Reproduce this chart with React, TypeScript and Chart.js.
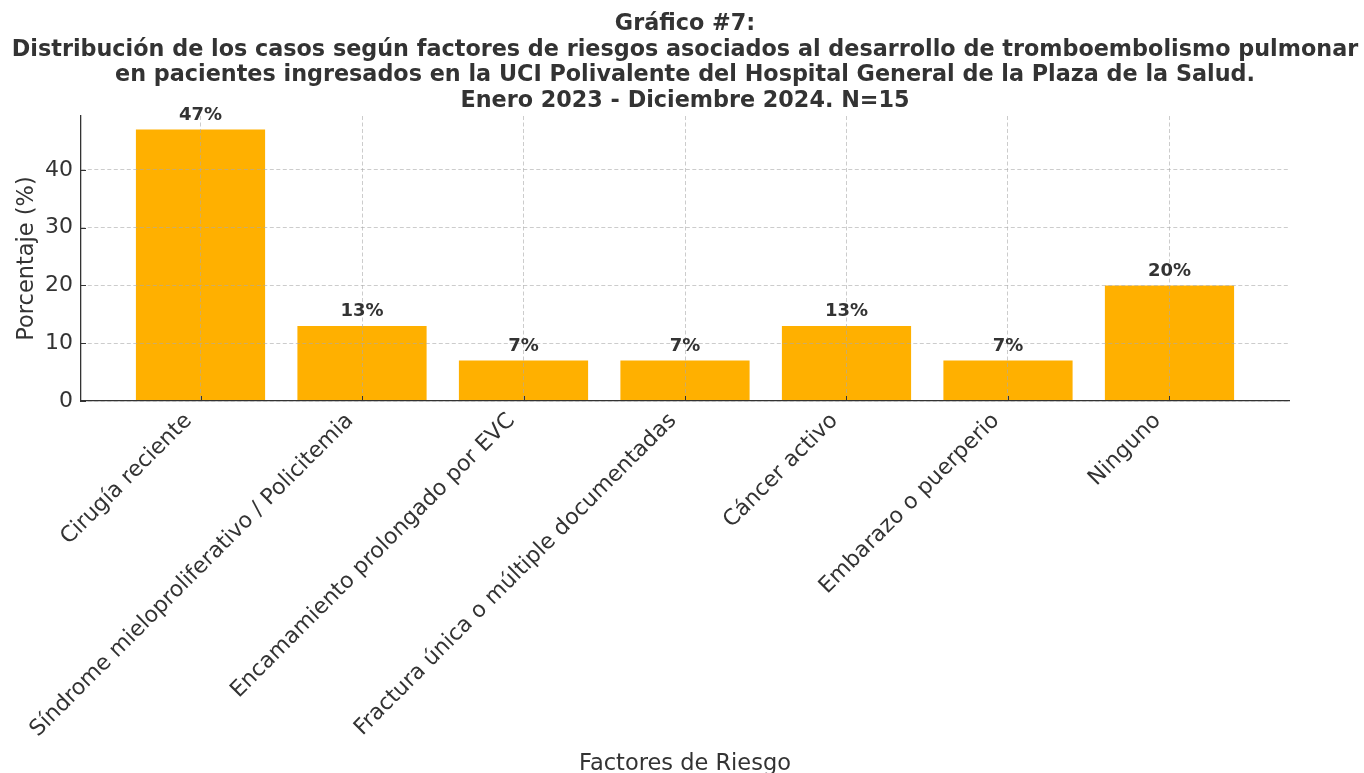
import React, { useEffect, useRef } from 'react';
import { Chart, registerables } from 'chart.js';

Chart.register(...registerables);

const categories: string[] = [
  'Cirugía reciente',
  'Síndrome mieloproliferativo / Policitemia',
  'Encamamiento prolongado por EVC',
  'Fractura única o múltiple documentadas',
  'Cáncer activo',
  'Embarazo o puerperio',
  'Ninguno',
];
const percentages: number[] = [47, 13, 7, 7, 13, 7, 20];
const valueLabels: string[] = ['47%', '13%', '7%', '7%', '13%', '7%', '20%'];
const titleLines: string[] = [
  'Gráfico #7:',
  'Distribución de los casos según factores de riesgos asociados al desarrollo de tromboembolismo pulmonar',
  'en pacientes ingresados en la UCI Polivalente del Hospital General de la Plaza de la Salud.',
  'Enero 2023 - Diciembre 2024. N=15',
];
const yAxisTitle = 'Porcentaje (%)';
const xAxisTitle = 'Factores de Riesgo';

const FONT = "'DejaVu Sans', sans-serif";
const TEXT = '#333333';
const BAR = '#FFB000';
const GRID = 'rgba(170,170,170,0.6)';

export default function App() {
  const ref = useRef<HTMLCanvasElement | null>(null);

  useEffect(() => {
    if (!ref.current) return;
    const n = categories.length;
    const lo = -0.4;
    const hi = n - 1 + 0.4;
    const m = 0.05 * (hi - lo);
    const yMax = Math.max(...percentages) * 1.05;

    const overlay = {
      id: 'overlay',
      afterDraw(chart: any) {
        const ctx = chart.ctx;
        const xs = chart.scales.x;
        const ys = chart.scales.y;
        const area = chart.chartArea;
        ctx.save();
        ctx.strokeStyle = TEXT;
        ctx.lineWidth = 1;
        xs.ticks.forEach((t: any) => {
          const px = Math.round(xs.getPixelForValue(t.value)) + 0.5;
          ctx.beginPath();
          ctx.moveTo(px, area.bottom);
          ctx.lineTo(px, area.bottom - 5);
          ctx.stroke();
        });
        ys.ticks.forEach((t: any) => {
          const py = Math.round(ys.getPixelForValue(t.value)) + 0.5;
          ctx.beginPath();
          ctx.moveTo(area.left, py);
          ctx.lineTo(area.left + 5, py);
          ctx.stroke();
        });
        const meta = chart.getDatasetMeta(0);
        ctx.fillStyle = TEXT;
        ctx.font = `bold 18px ${FONT}`;
        ctx.textAlign = 'center';
        ctx.textBaseline = 'alphabetic';
        meta.data.forEach((el: any, i: number) => {
          ctx.fillText(valueLabels[i], el.x, el.y - 9.5);
        });
        ctx.restore();
      },
    };

    const chart = new Chart(ref.current, {
      type: 'bar',
      data: {
        datasets: [
          {
            data: percentages.map((v, i) => ({ x: i, y: v })),
            backgroundColor: BAR,
            borderWidth: 0,
            barPercentage: 0.8,
            categoryPercentage: 1,
          },
        ],
      },
      options: {
        responsive: false,
        animation: false,
        layout: { padding: { left: 6, right: 0, top: 0, bottom: 0 } },
        plugins: {
          legend: { display: false },
          tooltip: { enabled: false },
          title: {
            display: true,
            text: titleLines,
            color: TEXT,
            font: { family: FONT, size: 22.3, weight: 'bold', lineHeight: 25.7 / 22.3 },
            padding: { top: 11.45, bottom: 1.75 },
          },
        },
        scales: {
          x: {
            type: 'linear',
            min: lo - m,
            max: hi + m,
            offset: false,
            afterFit: (s: any) => {
              s.height = 372;
            },
            grid: { color: GRID, lineWidth: 1, drawTicks: false, offset: false, z: 1 },
            border: { display: true, color: TEXT, width: 1.3, dash: [4, 2.5], z: 1 },
            ticks: {
              stepSize: 1,
              includeBounds: false,
              autoSkip: false,
              maxRotation: 45,
              minRotation: 45,
              padding: 7,
              labelOffset: -12,
              color: TEXT,
              font: { family: FONT, size: 22 },
              callback: (v: any) => (Number.isInteger(v) && categories[v] !== undefined ? categories[v] : ''),
            },
            title: {
              display: true,
              text: xAxisTitle,
              color: TEXT,
              font: { family: FONT, size: 22.5, lineHeight: 0.75 },
              padding: 0,
            },
          },
          y: {
            type: 'linear',
            min: 0,
            max: yMax,
            afterFit: (s: any) => {
              s.width = 75;
            },
            grid: { color: GRID, lineWidth: 1, drawTicks: false, z: 1 },
            border: { display: true, color: TEXT, width: 1.3, dash: [4, 2.5], z: 1 },
            ticks: {
              stepSize: 10,
              includeBounds: false,
              padding: 8,
              color: TEXT,
              font: { family: FONT, size: 22 },
            },
            title: {
              display: true,
              text: yAxisTitle,
              color: TEXT,
              font: { family: FONT, size: 22.5, lineHeight: 0.95 },
              padding: { top: 10, bottom: 0 },
            },
          },
          spacer: {
            type: 'linear',
            position: 'right',
            display: true,
            afterFit: (s: any) => {
              s.width = 75;
            },
            grid: { display: false, drawTicks: false },
            border: { display: false },
            ticks: { display: false },
            title: { display: false },
          },
        },
      },
      plugins: [overlay],
    } as any);

    return () => chart.destroy();
  }, []);

  return (
    <div style={{ position: 'absolute', left: 0, top: 0, width: 1364, height: 773, background: '#fff' }}>
      <canvas ref={ref} width={1364} height={773} style={{ display: 'block' }} />
    </div>
  );
}
